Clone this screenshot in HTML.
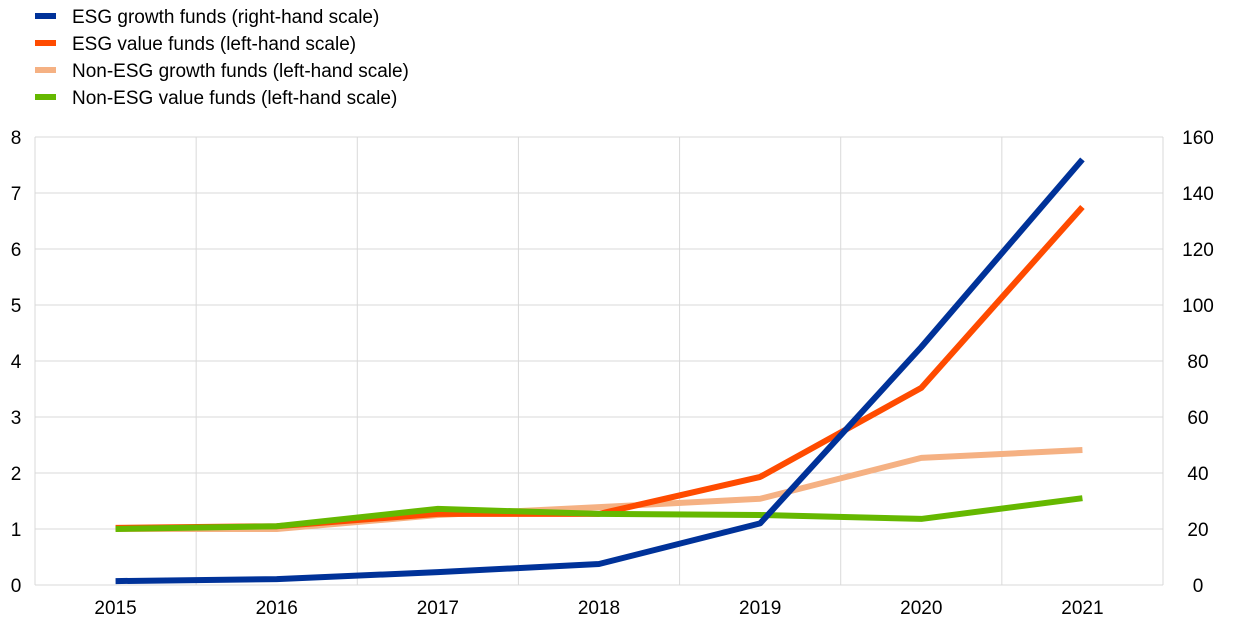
<!DOCTYPE html>
<html><head><meta charset="utf-8"><style>
body{margin:0;background:#fff;}
svg{display:block;font-family:"Liberation Sans",Arial,sans-serif;}
</style></head><body>
<svg id="chart" width="1240" height="630" viewBox="0 0 1240 630" xmlns="http://www.w3.org/2000/svg">
<g id="grid"></g>
<g id="axes"></g>
<g id="series"></g>
<g id="legend"></g>
</svg>
<script>
const years = ["2015","2016","2017","2018","2019","2020","2021"];
const esgGrowth = [1.4, 2.1, 4.6, 7.5, 22, 85, 152];
const esgValue = [1.02, 1.05, 1.27, 1.27, 1.93, 3.52, 6.75];
const nonEsgGrowth = [1.0, 1.0, 1.25, 1.39, 1.54, 2.27, 2.41];
const nonEsgValue = [1.0, 1.05, 1.36, 1.27, 1.25, 1.18, 1.55];
const leftTicks = [0,1,2,3,4,5,6,7,8];
const rightTicks = [0,20,40,60,80,100,120,140,160];

const NS = "http://www.w3.org/2000/svg";
const X0 = 35, X1 = 1163, YT = 137, YB = 585;
const step = (X1 - X0) / years.length;
const xPos = i => X0 + step * (i + 0.5);
const yL = v => YB - (v / 8) * (YB - YT);
const yR = v => YB - (v / 160) * (YB - YT);
function mk(tag, attrs, parent){const e=document.createElementNS(NS,tag);for(const k in attrs)e.setAttribute(k,attrs[k]);parent.appendChild(e);return e;}
const grid=document.getElementById('grid'), axes=document.getElementById('axes'), ser=document.getElementById('series'), leg=document.getElementById('legend');

leftTicks.forEach(t=>{
  if(t>0){const l=mk('line',{x1:X0,x2:X1,y1:yL(t),y2:yL(t),stroke:'#d9d9d9','stroke-width':1},grid);
  
  }
  const tx=mk('text',{x:16,y:yL(t)+7,'font-size':19,'text-anchor':'middle',fill:'#000'},axes);
  tx.textContent=t;
  
  
});
rightTicks.forEach(t=>{
  const tx=mk('text',{x:1198,y:yR(t)+7,'font-size':19,'text-anchor':'middle',fill:'#000'},axes);
  tx.textContent=t;
  
  
});
for(let i=0;i<=years.length;i++){
  const x=X0+step*i;
  const l=mk('line',{x1:x,x2:x,y1:YT,y2:YB,stroke:'#d9d9d9','stroke-width':1},grid);
  
  
}
const base=mk('line',{x1:X0,x2:X1,y1:YB,y2:YB,stroke:'#d9d9d9','stroke-width':1},axes);


years.forEach((y,i)=>{
  const tx=mk('text',{x:xPos(i),y:614,'font-size':19,'text-anchor':'middle',fill:'#000'},axes);
  tx.textContent=y;
  
  
});

const defs=[
 {name:'nonesg-value-line',data:nonEsgValue,sc:yL,c:'#65b800'},
 {name:'nonesg-growth-line',data:nonEsgGrowth,sc:yL,c:'#f5b183'},
 {name:'esg-value-line',data:esgValue,sc:yL,c:'#ff4b00'},
 {name:'esg-growth-line',data:esgGrowth,sc:yR,c:'#003299'}
];
// draw order: non-ESG growth, ESG value, non-ESG value, ESG growth
[defs[1],defs[2],defs[0],defs[3]].forEach(d=>{
  const p=mk('polyline',{points:d.data.map((v,i)=>xPos(i)+','+d.sc(v)).join(' '),fill:'none',stroke:d.c,'stroke-width':6,'stroke-linejoin':'round'},ser);
  
  
});

const legendItems=[
 ['ESG growth funds (right-hand scale)','#003299'],
 ['ESG value funds (left-hand scale)','#ff4b00'],
 ['Non-ESG growth funds (left-hand scale)','#f5b183'],
 ['Non-ESG value funds (left-hand scale)','#65b800']
];
legendItems.forEach((it,i)=>{
  const y=16+27*i;
  const r=mk('rect',{x:35,y:y-3,width:21,height:6,fill:it[1]},leg);
  
  
  const t=mk('text',{x:72,y:y+7,'font-size':19,fill:'#000'},leg);
  t.textContent=it[0];
  
  
});
</script>
</body></html>
